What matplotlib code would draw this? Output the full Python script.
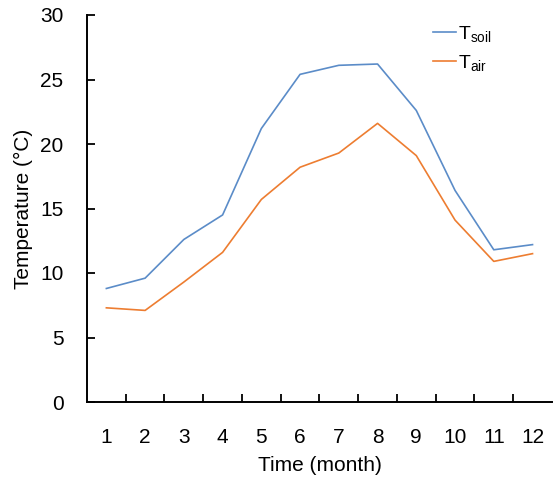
import matplotlib
matplotlib.use("Agg")
import matplotlib.pyplot as plt
import numpy as np

# ---------------------------------------------------------------------------
# Data
# ---------------------------------------------------------------------------
months = list(range(1, 13))
t_soil = [8.8, 9.6, 12.6, 14.5, 21.2, 25.4, 26.1, 26.2, 22.6, 16.4, 11.8, 12.2]
t_air = [7.3, 7.1, 9.3, 11.6, 15.7, 18.2, 19.3, 21.6, 19.1, 14.1, 10.9, 11.5]
y_ticks = [0, 5, 10, 15, 20, 25, 30]

SOIL_COLOR = "#5b8cc8"
AIR_COLOR = "#ed7d31"
FS = 15

plt.rcParams["font.family"] = ["Liberation Sans", "DejaVu Sans"]
plt.rcParams["mathtext.fontset"] = "custom"
plt.rcParams["mathtext.rm"] = "Liberation Sans"
plt.rcParams["mathtext.it"] = "Liberation Sans"

fig = plt.figure(figsize=(5.53, 4.79), dpi=100)
ax = fig.add_axes([87 / 553, 1 - 402 / 479, 1 - 87 / 553 - 0.002, (402 - 15) / 479])

ax.plot(months, t_soil, color=SOIL_COLOR, lw=1.2, label=r"T$_{\mathrm{soil}}$")
ax.plot(months, t_air, color=AIR_COLOR, lw=1.2, label=r"T$_{\mathrm{air}}$")

ax.set_xlim(0.5, 12.5)
ax.set_ylim(0, 30)
ax.set_yticks(y_ticks)
ax.set_xticks(months)
ax.set_xticks(np.arange(1.5, 12, 1.0), minor=True)

for side in ("top", "right"):
    ax.spines[side].set_visible(False)
for side in ("left", "bottom"):
    ax.spines[side].set_linewidth(1.4)
    ax.spines[side].set_color("black")

ax.tick_params(axis="y", direction="in", length=6, width=1.3,
               labelsize=FS, pad=17, colors="black")
ax.tick_params(axis="x", which="major", length=0, labelsize=FS, pad=19)
ax.tick_params(axis="x", which="minor", direction="in", length=5.5, width=1.3)

ax.set_xlabel("Time (month)", fontsize=FS, labelpad=6)
ax.set_ylabel("Temperature (°C)", fontsize=FS, labelpad=5)

ax.legend(loc="upper left", bbox_to_anchor=(433 / 553, 1 - 24 / 479),
          bbox_transform=fig.transFigure, frameon=False, fontsize=14,
          handlelength=1.2, handletextpad=0.1, labelspacing=0.45,
          borderpad=0, borderaxespad=0)

fig.savefig("out.png", dpi=100)
